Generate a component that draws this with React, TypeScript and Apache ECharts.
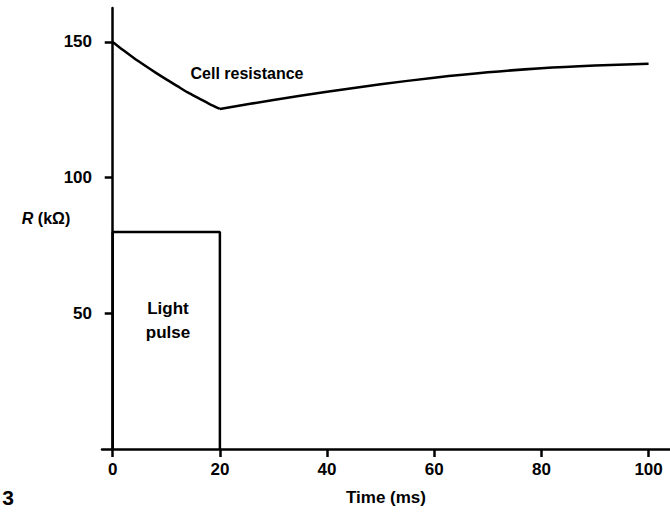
import React, { useEffect, useRef } from "react";
import * as echarts from "echarts";

// Cell resistance (kΩ) vs time (ms)
const decayTimes = [0, 2, 4, 6, 8, 10, 12, 14, 16, 18, 20];
const decayValues = [150, 146.9, 144, 141.3, 138.7, 136.2, 133.8, 131.4, 129.3, 127.2, 125.3];
const recoveryTimes = [20, 30, 40, 50, 60, 70, 80, 90, 100];
const recoveryValues = [125.3, 128.6, 131.6, 134.4, 136.8, 138.8, 140.3, 141.3, 142];
// Light pulse (rectangle) outline
const pulseTimes = [0, 0, 20, 20];
const pulseValues = [0, 80, 80, 0];
// Tick labels
const xTicks = [0, 20, 40, 60, 80, 100];
const yTicks = [50, 100, 150];

const FONT = "Liberation Sans";

export default function App() {
  const ref = useRef<HTMLDivElement>(null);
  useEffect(() => {
    if (!ref.current) return;
    const chart = echarts.init(ref.current, undefined, { renderer: "svg" });
    const pair = (xs: number[], ys: number[]) => xs.map((x, i) => [x, ys[i]]);
    const labelStyle = { color: "#000", fontFamily: FONT, fontWeight: "bold", fontSize: 17 };
    chart.setOption({
      animation: false,
      backgroundColor: "#fff",
      grid: { left: 102, right: 0, top: 8, bottom: 64 },
      xAxis: {
        type: "value",
        min: -2,
        max: 104,
        name: "Time (ms)",
        nameLocation: "middle",
        nameGap: 40,
        nameTextStyle: labelStyle,
        axisLine: { show: true, onZero: false, lineStyle: { color: "#000", width: 2.5 } },
        axisTick: { show: true, customValues: xTicks, length: 8, lineStyle: { color: "#000", width: 2.5 } },
        axisLabel: { customValues: xTicks, margin: 12, ...labelStyle },
        splitLine: { show: false },
      },
      yAxis: {
        type: "value",
        min: 0,
        max: 162.5,
        axisLine: { show: true, onZero: true, lineStyle: { color: "#000", width: 2.5 } },
        axisTick: { show: true, customValues: yTicks, length: 8, lineStyle: { color: "#000", width: 2.5 } },
        axisLabel: { customValues: yTicks, margin: 10, ...labelStyle },
        splitLine: { show: false },
      },
      series: [
        {
          type: "line",
          data: pair(decayTimes, decayValues),
          smooth: 0.3,
          symbol: "none",
          lineStyle: { color: "#000", width: 2.5 },
        },
        {
          type: "line",
          data: pair(recoveryTimes, recoveryValues),
          smooth: 0.3,
          symbol: "none",
          lineStyle: { color: "#000", width: 2.5 },
        },
        {
          type: "line",
          data: pair(pulseTimes, pulseValues),
          symbol: "none",
          lineStyle: { color: "#000", width: 2.5 },
        },
      ],
      graphic: [
        {
          type: "text",
          x: 247,
          y: 73,
          style: {
            text: "Cell resistance",
            fill: "#000",
            font: `bold 16px "${FONT}"`,
            align: "center",
            verticalAlign: "middle",
          },
        },
        {
          type: "text",
          x: 168,
          y: 320,
          style: {
            text: "Light\npulse",
            fill: "#000",
            font: `bold 17px "${FONT}"`,
            align: "center",
            verticalAlign: "middle",
            lineHeight: 24,
          },
        },
        {
          type: "text",
          x: 46,
          y: 218,
          style: {
            text: "{i|R} (kΩ)",
            fill: "#000",
            font: `bold 16px "${FONT}"`,
            align: "center",
            verticalAlign: "middle",
            rich: {
              i: { fontStyle: "italic", fontWeight: "bold", fontSize: 16, fontFamily: FONT, fill: "#000" },
            },
          },
        },
        {
          type: "text",
          x: 8,
          y: 497,
          style: {
            text: "3",
            fill: "#000",
            font: `bold 21px "${FONT}"`,
            align: "center",
            verticalAlign: "middle",
          },
        },
      ],
    });
    return () => chart.dispose();
  }, []);
  return <div ref={ref} style={{ width: 670, height: 513, position: "absolute", left: 0, top: 0 }} />;
}
